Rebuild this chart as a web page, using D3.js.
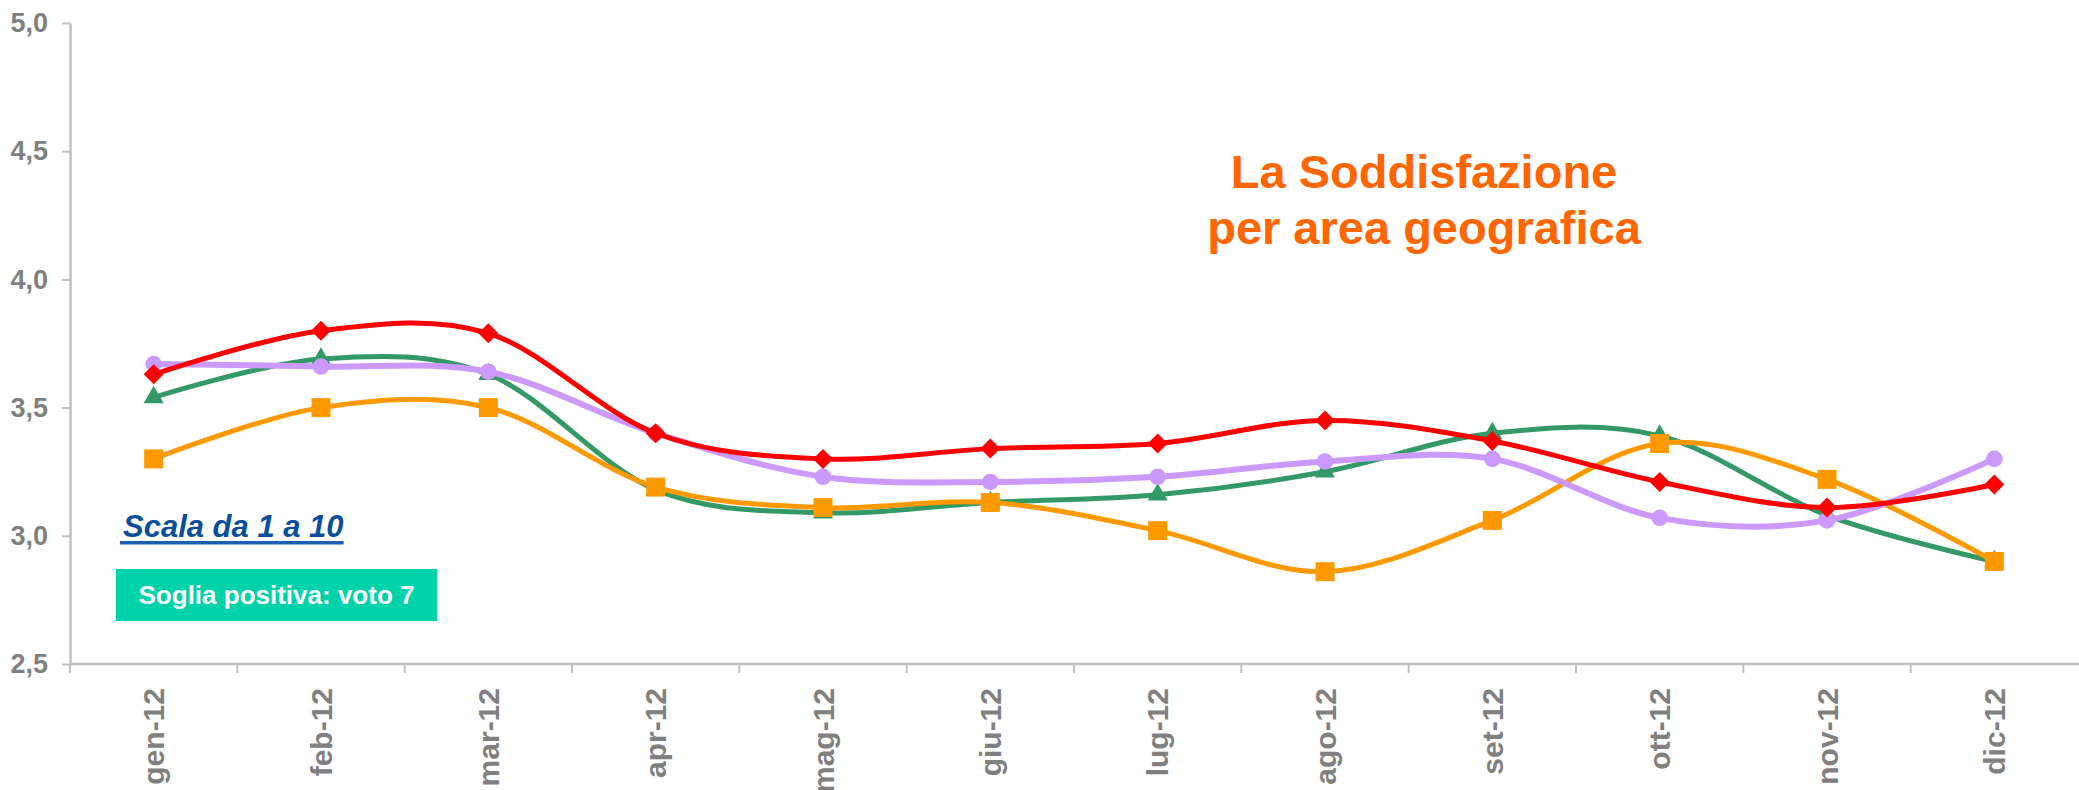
<!DOCTYPE html>
<html>
<head>
<meta charset="utf-8">
<script src="https://cdn.jsdelivr.net/npm/d3@7"></script>
<style>
  html, body { margin: 0; padding: 0; background: #fff; }
  svg { display: block; font-family: "Liberation Sans", Arial, sans-serif; }
</style>
</head>
<body>
<svg id="chart" width="2079" height="790"></svg>
<script>
// months on the x axis
var months = ['gen-12', 'feb-12', 'mar-12', 'apr-12', 'mag-12', 'giu-12',
  'lug-12', 'ago-12', 'set-12', 'ott-12', 'nov-12', 'dic-12'];
var yTicks = [2.5, 3.0, 3.5, 4.0, 4.5, 5.0];

// one series per area
var verde = [3.54, 3.69, 3.63, 3.18, 3.09, 3.13, 3.16, 3.25, 3.40, 3.39, 3.08, 2.90];
var arancio = [3.30, 3.50, 3.50, 3.19, 3.11, 3.13, 3.02, 2.86, 3.06, 3.36, 3.22, 2.90];
var lilla = [3.67, 3.66, 3.64, 3.40, 3.23, 3.21, 3.23, 3.29, 3.30, 3.07, 3.06, 3.30];
var rosso = [3.63, 3.80, 3.79, 3.40, 3.30, 3.34, 3.36, 3.45, 3.37, 3.21, 3.11, 3.20];

var titleLines = ['La Soddisfazione', 'per area geografica'];
var scaleNote = 'Scala da 1 a 10';
var thresholdNote = 'Soglia positiva: voto 7';

// drawing order: last one ends up on top
var series = [
  { values: verde, color: '#339966', symbol: 'triangle', width: 5 },
  { values: arancio, color: '#FF9900', symbol: 'square', width: 5 },
  { values: lilla, color: '#CC99FF', symbol: 'circle', width: 6 },
  { values: rosso, color: '#FF0000', symbol: 'diamond', width: 5 }
];

var svg = d3.select('#chart');
var axisColor = '#BFBFBF';
var labelColor = '#808080';

var x = d3.scaleBand()
  .domain(months)
  .range([70, 2078]);

var y = d3.scaleLinear()
  .domain([2.5, 5])
  .range([664, 23]);

var itLocale = d3.formatLocale({ decimal: ',', thousands: '.', grouping: [3], currency: ['', '€'] });
var fmt = itLocale.format('.1f');

// y axis
var yAxis = svg.append('g')
  .attr('transform', 'translate(70,0)')
  .call(d3.axisLeft(y).tickValues(yTicks).tickFormat(fmt).tickSize(8).tickSizeOuter(0).tickPadding(14));
yAxis.select('.domain').attr('stroke', axisColor).attr('stroke-width', 2.5);
yAxis.selectAll('.tick line').attr('stroke', axisColor).attr('stroke-width', 2);
yAxis.selectAll('.tick text')
  .attr('fill', labelColor)
  .style('font-size', '27px')
  .style('font-weight', 'bold')
  .style('font-family', '"Liberation Sans", Arial, sans-serif');

// x axis: line, ticks between categories, rotated labels
var xAxis = svg.append('g');
xAxis.append('line')
  .attr('x1', 70).attr('x2', 2079)
  .attr('y1', y(2.5)).attr('y2', y(2.5))
  .attr('stroke', axisColor).attr('stroke-width', 2.5);
xAxis.selectAll('line.tick')
  .data(months)
  .enter()
  .append('line')
  .attr('class', 'tick')
  .attr('x1', function (d) { return x(d); })
  .attr('x2', function (d) { return x(d); })
  .attr('y1', y(2.5))
  .attr('y2', y(2.5) + 9)
  .attr('stroke', axisColor).attr('stroke-width', 2);
xAxis.selectAll('text')
  .data(months)
  .enter()
  .append('text')
  .attr('transform', function (d) {
    return 'translate(' + (x(d) + x.bandwidth() / 2) + ',' + (y(2.5) + 24) + ') rotate(-90)';
  })
  .attr('text-anchor', 'end')
  .attr('dy', '0.36em')
  .attr('fill', labelColor)
  .style('font-size', '30px')
  .style('font-weight', 'bold')
  .text(function (d) { return d; });

// lines + markers
var line = d3.line()
  .x(function (d, i) { return x(months[i]) + x.bandwidth() / 2; })
  .y(function (d) { return y(d); })
  .curve(d3.curveCardinal.tension(0));

var symbols = {
  triangle: d3.symbol().type(d3.symbolTriangle).size(175),
  square: d3.symbol().type(d3.symbolSquare).size(361),
  circle: d3.symbol().type(d3.symbolCircle).size(215),
  diamond: d3.symbol().type(d3.symbolSquare).size(200)
};

series.forEach(function (s) {
  var g = svg.append('g');
  g.append('path')
    .datum(s.values)
    .attr('d', line)
    .attr('fill', 'none')
    .attr('stroke', s.color)
    .attr('stroke-width', s.width)
    .attr('stroke-linejoin', 'round');
  g.selectAll('path.marker')
    .data(s.values)
    .enter()
    .append('path')
    .attr('class', 'marker')
    .attr('d', symbols[s.symbol])
    .attr('transform', function (d, i) {
      var t = 'translate(' + (x(months[i]) + x.bandwidth() / 2) + ',' + y(d) + ')';
      return s.symbol === 'diamond' ? t + ' rotate(45)' : t;
    })
    .attr('fill', s.color);
});

// title
svg.append('text')
  .attr('x', 1424)
  .attr('y', 188)
  .attr('text-anchor', 'middle')
  .attr('fill', '#FF6600')
  .style('font-size', '47px')
  .style('font-weight', 'bold')
  .selectAll('tspan')
  .data(titleLines)
  .enter()
  .append('tspan')
  .attr('x', 1424)
  .attr('dy', function (d, i) { return i ? 56 : 0; })
  .text(function (d) { return d; });

// scale note, underlined
var note = svg.append('text')
  .attr('x', 123)
  .attr('y', 537)
  .attr('fill', '#0B4F9C')
  .style('font-size', '31px')
  .style('font-weight', 'bold')
  .style('font-style', 'italic')
  .text(scaleNote);
var nb = note.node().getBBox();
svg.append('rect')
  .attr('x', nb.x - 3)
  .attr('y', 541)
  .attr('width', nb.width + 3)
  .attr('height', 3.5)
  .attr('fill', '#1A5FB0');

// threshold box
svg.append('rect')
  .attr('x', 116)
  .attr('y', 569)
  .attr('width', 321)
  .attr('height', 52)
  .attr('fill', '#00D2AA');
svg.append('text')
  .attr('x', 276.5)
  .attr('y', 604)
  .attr('text-anchor', 'middle')
  .attr('fill', '#fff')
  .style('font-size', '26px')
  .style('font-weight', 'bold')
  .text(thresholdNote);
</script>
</body>
</html>
